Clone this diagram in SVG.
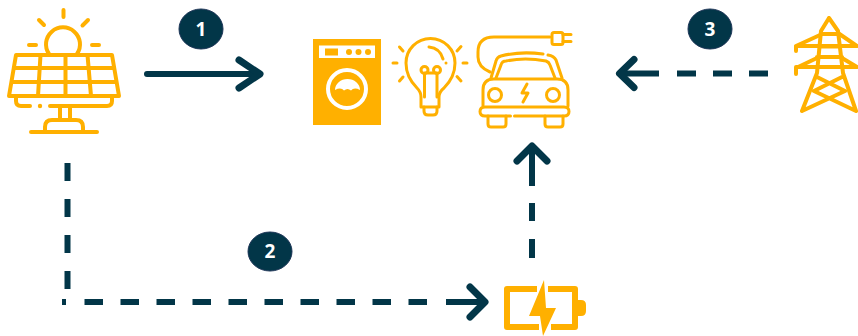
<svg xmlns="http://www.w3.org/2000/svg" width="858" height="336" viewBox="0 0 858 336">
<style>
.o{fill:none;stroke:#ffb000;stroke-width:3;stroke-linecap:round;stroke-linejoin:round}
.s{stroke-width:4}
.f{fill:#ffb000;stroke:none}
.a{fill:none;stroke:#023648;stroke-width:7;stroke-linecap:round;stroke-linejoin:round}
.d{fill:none;stroke:#023648;stroke-width:6}
.b{fill:#023648;stroke:#1d3557;stroke-width:1}
.n{font-family:"Open Sans","Liberation Sans",sans-serif;font-weight:700;font-size:19px;fill:#fff;text-anchor:middle}
</style>
<rect width="858" height="336" fill="#fff"/>
<g id="connectors">
<path class="d" stroke-linecap="round" d="M147 74H255"/>
<path class="a" d="M239 60L260 74L239 88"/>
<path class="a" d="M634 59.500L619.500 73.500L634 87.500"/>
<path class="d" d="M768 73.500H749M732 73.500H713M696 73.500H677M659 73.500H622"/>
<path class="a" d="M517 161L532 146L547 161"/>
<path class="d" d="M532 258V239M532 221V203M532 186V150"/>
<path class="d" d="M67.500 163V181M67.500 199V217M67.500 235V253M67.500 271V289"/>
<path class="d" d="M62 302H66M84.500 302H103M120.500 302H139M156.500 302H175M192.500 302H211M228.500 302H247M264.500 302H283M300.500 302H319M336.500 302H355M372.500 302H391M408.500 302H427M446 302H482"/>
<path class="a" d="M470 287L485 302L470 317"/>
</g>
<g id="solar-panel">
<path class="o s" d="M63.500 10V17M39 20L44 25M88 20L82.500 25.500M29 45H36M92 45H99"/>
<path class="o s" d="M49 54A17 17 0 1 1 77 54"/>
<path class="o s" d="M16 55H112L119 96H9Z"/>
<path class="o s" d="M14 68H114M12 82H116M40.500 55L38 96M65.500 55V96M87.500 55L91 96"/>
<path class="o s" d="M16 97V101Q16 106 21 106H30M50 106H107Q112 106 112 101V97"/>
<circle class="f" cx="40" cy="106" r="2.200"/>
<path class="o s" d="M60 107V120M70 107V120M45 132V127Q45 120 52 120H76Q83 120 83 127V132M31 132H97"/>
</g>
<g id="washing-machine">
<rect class="f" x="313" y="39" width="68" height="86"/>
<rect x="319" y="45.500" width="56" height="12.500" fill="#fff"/>
<rect class="f" x="325" y="48.500" width="13" height="7"/>
<circle class="f" cx="349" cy="52" r="3"/>
<circle class="f" cx="358.500" cy="52" r="3"/>
<circle class="f" cx="368" cy="52" r="3"/>
<circle cx="347" cy="89" r="19" fill="none" stroke="#fff" stroke-width="4"/>
<path fill="#fff" d="M335 90A12.500 11 0 0 1 360 90Q354 87 351 90.500Q347.500 87.500 344 90.500Q341 87 335 90Z"/>
</g>
<g id="light-bulb">
<path class="o" d="M421 97Q421 92 417 88Q406 77 406 63A24.500 24.500 0 0 1 455 63Q455 77 444 88Q439 92 439 97V107H421Z"/>
<path class="o" d="M424 107V111Q424 115 428 115H433Q437 115 437 111V107"/>
<path class="o" d="M424.500 97V74M437 97V74M424.500 73H437"/>
<circle class="o" cx="424.500" cy="70" r="3.500"/>
<circle class="o" cx="437" cy="70" r="3.500"/>
<path class="o" d="M429 47Q440 48 443 59"/>
<circle class="f" cx="446" cy="63" r="1.500"/>
<path class="o" d="M393 63H397M399.500 47L403 51M399.500 81L403 77M463 63H467M461 46.500L457 51M461 81L457 76.500"/>
</g>
<g id="electric-car">
<path class="o" d="M550 37H494Q478 37 478 52V57Q478 67 490 72"/>
<rect class="o" x="552" y="32.500" width="11" height="12" rx="2"/>
<path class="o" d="M563 34.500H571M563 41.500H571"/>
<path class="o" d="M491 78L496 61Q497 57 501 56Q520 51 543 54M548 55Q554 56 556 60L562 78"/>
<path class="o" d="M496 78L501 65Q502 61 506 61Q525 57 546 61Q549 62 550 65L555 78"/>
<path class="o" d="M483 106V90Q483 79 494 79H557Q568 79 568 90V106"/>
<circle class="o" cx="495" cy="95" r="6.500"/>
<circle class="o" cx="553" cy="95" r="6.500"/>
<path class="o" d="M527 84L522 93H528L523 102"/>
<path class="o" d="M510.500 116H485Q480 116 480 111.500Q480 107 485 107H564Q569 107 569 111.500Q569 116 564 116H514.500"/>
<path class="o" d="M488 116V124Q488 127 491 127H503Q506 127 506 124V116M545 116V124Q545 127 548 127H560Q563 127 563 124V116"/>
</g>
<g id="power-tower">
<path class="o s" d="M829 18L821 31L817 73L802 111M829 18L838 31L843 73L856 111L814 91L842 77M802 111L845 91L817 77M821 34H838M819 46.500H840M817 57H842"/>
<path class="o s" d="M796 46L820 35M796 46H857L838 33M796 46V51M796 68L817 58M796 67H857L842 58M796 67V74"/>
</g>
<g id="battery">
<path fill="none" stroke="#ffb000" stroke-width="6" stroke-linejoin="round" d="M537 289H507V327H539M548 289H575V327H551"/>
<path class="f" d="M578 300H581Q586 300 586 305V311Q586 316 581 316H578Z"/>
<path class="f" d="M544 280L529 316H540L543 336L556 308H546Z"/>
</g>
<g id="badge-1"><ellipse class="b" cx="201" cy="29" rx="22" ry="20"/><text class="n" x="201" y="35.500">1</text></g>
<g id="badge-2"><ellipse class="b" cx="270" cy="251.500" rx="22" ry="19.500"/><text class="n" x="270" y="258">2</text></g>
<g id="badge-3"><ellipse class="b" cx="710" cy="29" rx="22" ry="20"/><text class="n" x="710" y="35.500">3</text></g>
</svg>
